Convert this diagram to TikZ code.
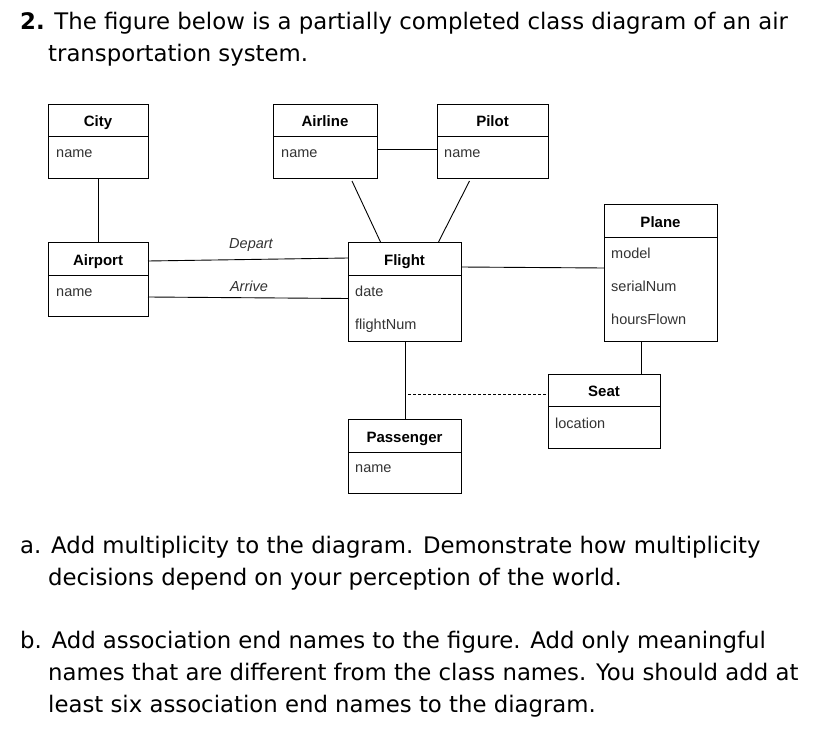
\documentclass[tikz,border=0pt]{standalone}
\usepackage{fontspec}
\setmainfont{DejaVu Sans}
\newfontfamily\arial{Liberation Sans}
\begin{document}
\begin{tikzpicture}[x=1pt,y=-1pt,
  cls/.style={draw,line width=1pt},
  ttl/.style={font=\arial\fontsize{15}{17}\selectfont\bfseries,anchor=base},
  att/.style={font=\arial\fontsize{14.5}{16}\selectfont,text=black!80,anchor=base west,inner sep=0},
  qt/.style={font=\fontsize{22.8}{26}\selectfont,anchor=base west,inner sep=0},
  assoc/.style={line width=0.9pt}]
\useasboundingbox (0,0) rectangle (817,741);
\fill[white] (0,0) rectangle (817,741);
% question text
\node[qt] (q1) at (20,30) {\textbf{2.} The figure below is a partially completed class diagram of an air};
\node[qt] (q2) at (48,62) {transportation system.};
\node[qt] (a1) at (20,553) {a. Add multiplicity to the diagram. Demonstrate how multiplicity};
\node[qt] (a2) at (48,585) {decisions depend on your perception of the world.};
\node[qt] (b1) at (20,648) {b. Add association end names to the figure. Add only meaningful};
\node[qt] (b2) at (48,680) {names that are different from the class names. You should add at};
\node[qt] (b3) at (48,712) {least six association end names to the diagram.};
% classes
\newcommand{\umlclass}[8]{% name, x1,y1,x2,y2,divy,title
  \draw[cls] (#2,#3) rectangle (#4,#5);
  \draw[cls] (#2,#6) -- (#4,#6);
  \coordinate (#1-nw) at (#2,#3);
  \coordinate (#1-se) at (#4,#5);
  \node[ttl] (#1-t) at ({(#2+#4)/2},{#6-10}) {#7};
  #8}
\umlclass{city}{48}{105}{148}{179}{137}{City}{\node[att] (city-a) at (56,158) {name};}
\umlclass{airline}{273}{105}{377}{179}{137}{Airline}{\node[att] (airline-a) at (281,158) {name};}
\umlclass{pilot}{437}{105}{548}{179}{137}{Pilot}{\node[att] (pilot-a) at (444,158) {name};}
\umlclass{plane}{604}{204}{717}{341}{237}{Plane}{%
  \node[att] (plane-a) at (611,258) {model};
  \node[att] (plane-b) at (611,291) {serialNum};
  \node[att] (plane-c) at (611,324) {hoursFlown};}
\umlclass{airport}{48}{242}{148}{316}{275}{Airport}{\node[att] (airport-a) at (56,296) {name};}
\umlclass{flight}{348}{242}{461}{341}{275}{Flight}{%
  \node[att] (flight-a) at (355,296) {date};
  \node[att] (flight-b) at (355,329) {flightNum};}
\umlclass{seat}{548}{374}{660}{448}{406}{Seat}{\node[att] (seat-a) at (555,428) {location};}
\umlclass{pass}{348}{419}{461}{493}{452}{Passenger}{\node[att] (pass-a) at (355,472) {name};}
% associations
\draw[assoc] (98,179) -- (98,242);
\draw[assoc] (377,149) -- (437,149);
\draw[assoc] (352,181) -- (380.5,242);
\draw[assoc] (469.5,181) -- (438.5,242);
\draw[assoc] (148,261) -- (348,258);
\draw[assoc] (148,297) -- (348,298.5);
\draw[assoc] (461,267) -- (604,268);
\draw[assoc] (641,341) -- (641,374);
\draw[assoc] (405,341) -- (405,419);
\draw[assoc,dashed,dash pattern=on 3pt off 2pt] (408,394) -- (548,394);
\node[font=\arial\itshape\fontsize{14.5}{16}\selectfont,text=black!80,anchor=base] (dep) at (251,248) {Depart};
\node[font=\arial\itshape\fontsize{14.5}{16}\selectfont,text=black!80,anchor=base] (arr) at (249,291) {Arrive};
\end{tikzpicture}
\end{document}
